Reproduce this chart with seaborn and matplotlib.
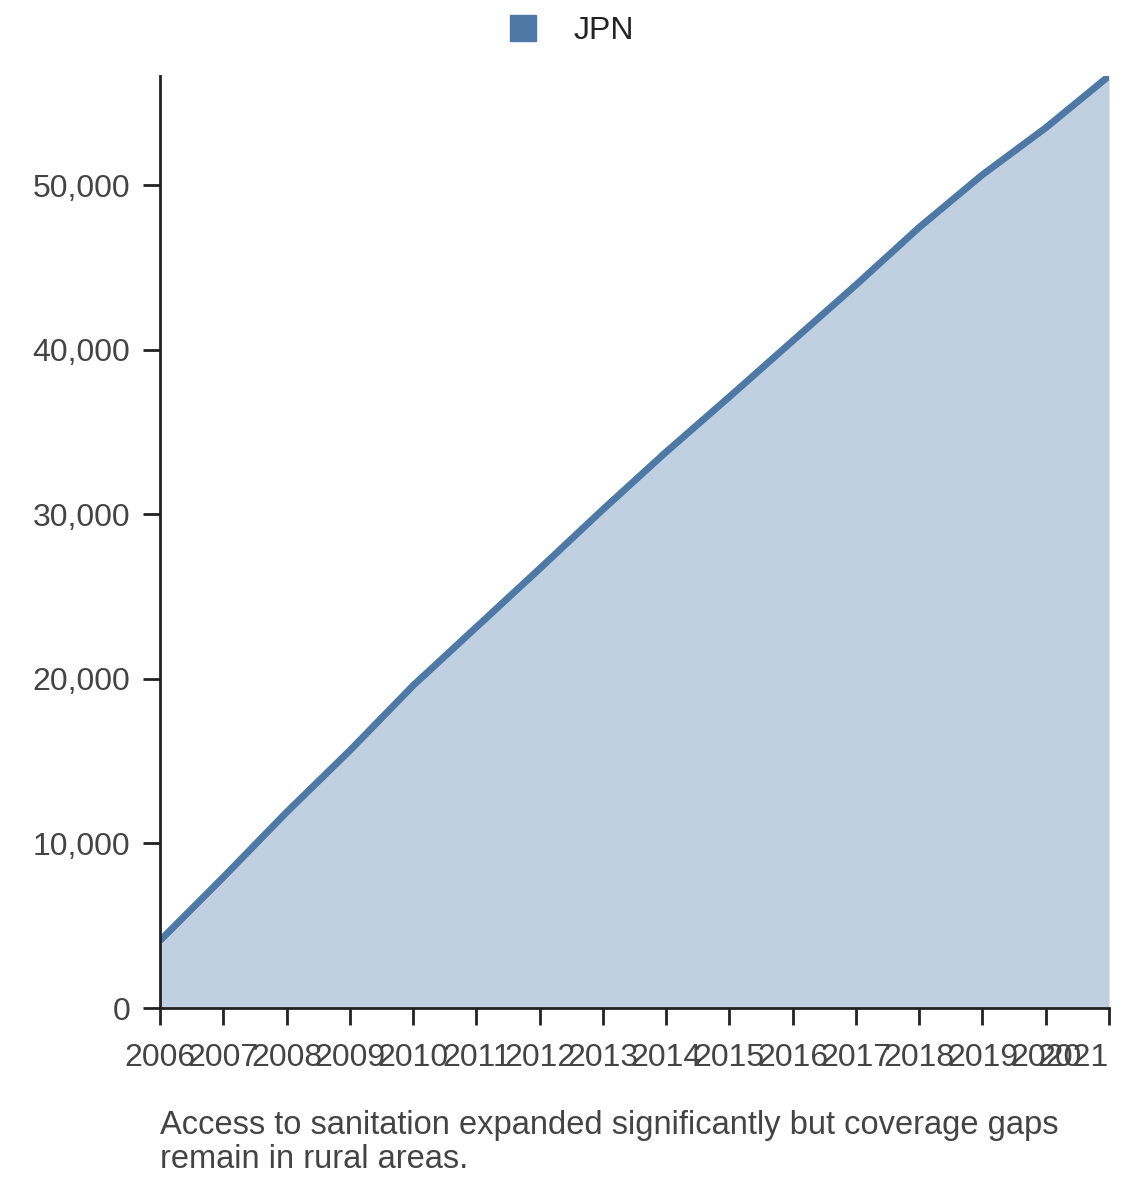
import matplotlib
matplotlib.use("Agg")
import matplotlib.pyplot as plt
import seaborn as sns
import pandas as pd
from matplotlib.ticker import FuncFormatter
from matplotlib.lines import Line2D

# data
years = [2006, 2007, 2008, 2009, 2010, 2011, 2012, 2013,
         2014, 2015, 2016, 2017, 2018, 2019, 2020, 2021]
values = [4100, 7950, 11900, 15650, 19600, 23150, 26700, 30300,
          33800, 37150, 40550, 43950, 47450, 50650, 53500, 56650]
series_name = "JPN"
caption = ("Access to sanitation expanded significantly but coverage gaps\n"
           "remain in rural areas.")

df = pd.DataFrame({"year": years, "value": values})

sns.set_style("ticks")
plt.rcParams["font.family"] = ["Liberation Sans", "DejaVu Sans"]

blue = "#4e79a7"
fig = plt.figure(figsize=(11.4, 11.82), dpi=100)
ax = fig.add_axes([0.1404, 0.1472, 0.8324, 0.7885])

ax.fill_between(df["year"], df["value"], color=blue, alpha=0.35, linewidth=0)
sns.lineplot(data=df, x="year", y="value", ax=ax, color=blue, linewidth=5,
             solid_capstyle="butt")

ax.set_xlim(years[0], years[-1])
ax.set_ylim(0, max(values))
ax.set_xticks(years)
ax.set_yticks([0, 10000, 20000, 30000, 40000, 50000])
ax.yaxis.set_major_formatter(FuncFormatter(lambda v, p: f"{v:,.0f}"))
ax.set_xlabel("")
ax.set_ylabel("")

for s in ["top", "right"]:
    ax.spines[s].set_visible(False)
for s in ["left", "bottom"]:
    ax.spines[s].set_color("#222222")
    ax.spines[s].set_linewidth(2)
ax.tick_params(axis="both", length=12.5, width=2, color="#222222",
               labelsize=23, labelcolor="#444444")
ax.tick_params(axis="y", pad=9)
ax.tick_params(axis="x", pad=13)

# last year label is pushed inside the figure, as in the original
ax.get_xticklabels()[-1].set_horizontalalignment("right")

fig.text(0.1404, 0.006, caption, fontsize=23.5, color="#444444",
         ha="left", va="bottom", linespacing=1.12)

handle = Line2D([], [], marker="s", linestyle="none", markersize=19,
                markerfacecolor=blue, markeredgecolor=blue)
fig.legend([handle], [series_name], loc="upper center",
           bbox_to_anchor=(0.4934, 1.011), frameon=False, fontsize=23,
           handletextpad=0.6, labelcolor="#222222")

fig.savefig("out.png", dpi=100)
